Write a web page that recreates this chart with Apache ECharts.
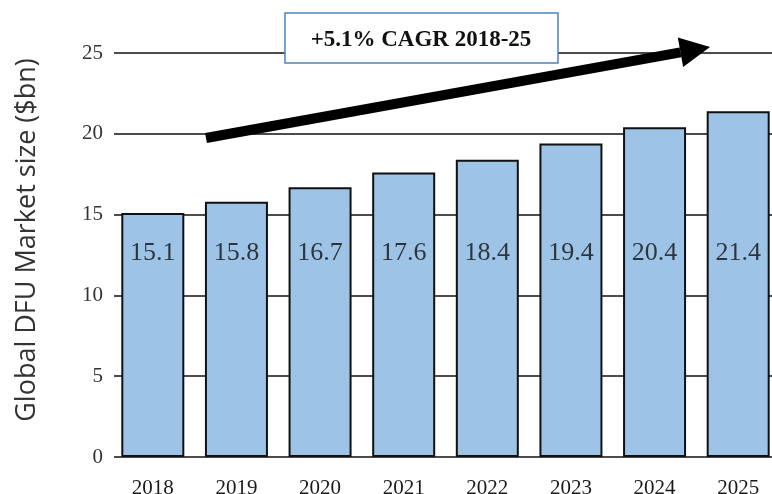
<!DOCTYPE html>
<html>
<head>
<meta charset="utf-8">
<script src="https://cdn.jsdelivr.net/npm/echarts@6/dist/echarts.min.js"></script>
<style>html,body{margin:0;padding:0;background:#fff}#c{width:772px;height:494px}</style>
</head>
<body>
<div id="c"></div>
<script>
const years = ['2018','2019','2020','2021','2022','2023','2024','2025'];
const marketSize = [15.1, 15.8, 16.7, 17.6, 18.4, 19.4, 20.4, 21.4];
const yTicks = [0, 5, 10, 15, 20, 25];
const yAxisTitle = 'Global DFU Market size ($bn)';
const cagrText = '+5.1% CAGR 2018-25';
const labelLevel = 12.6;

const serif = 'Liberation Serif';
const chart = echarts.init(document.getElementById('c'));

// arrow geometry
const tip = [710, 47], start = [206, 138];
const dx = tip[0]-start[0], dy = tip[1]-start[1], L = Math.hypot(dx, dy);
const ux = dx/L, uy = dy/L, nx = -uy, ny = ux;
const headLen = 30, headHalf = 15;
const base = [tip[0]-headLen*ux, tip[1]-headLen*uy];

chart.setOption({
  animation: false,
  grid: [
    {left: 114, right: 0, top: 53, bottom: 37, outerBoundsMode: 'none', containLabel: false},
    {left: 111, width: 669, top: 53, bottom: 37, outerBoundsMode: 'none', containLabel: false}
  ],
  xAxis: [
    {gridIndex: 0, type: 'category', data: years, show: false},
    {gridIndex: 1, type: 'category', data: years,
     axisLine: {show: false}, axisTick: {show: false},
     axisLabel: {fontFamily: serif, fontSize: 21, color: '#1a1a1a', margin: 21}}
  ],
  yAxis: [
    {gridIndex: 0, type: 'value', min: yTicks[0], max: yTicks[yTicks.length-1], interval: 5,
     axisLine: {show: false}, axisTick: {show: false},
     axisLabel: {fontFamily: serif, fontSize: 21, color: '#333', margin: 11},
     splitLine: {lineStyle: {color: '#111', width: 1.6}}},
    {gridIndex: 1, type: 'value', min: 0, max: 25, show: false}
  ],
  series: [
    {type: 'bar', xAxisIndex: 1, yAxisIndex: 1, data: marketSize, barWidth: 63,
     itemStyle: {color: '#9DC3E6', borderColor: '#111', borderWidth: 2}},
    {type: 'scatter', xAxisIndex: 1, yAxisIndex: 1, symbolSize: 0, z: 5,
     data: marketSize.map(() => labelLevel),
     label: {show: true, position: 'inside',
       formatter: p => marketSize[p.dataIndex].toFixed(1),
       fontFamily: serif, fontSize: 26, color: '#111'}}
  ],
  graphic: [
    {type: 'text', x: 27, y: 240, rotation: Math.PI/2, z: 10,
     style: {text: yAxisTitle, fontFamily: 'Open Sans', fontSize: 27, fill: '#333',
       textAlign: 'center', textVerticalAlign: 'middle'}},
    {type: 'rect', shape: {x: 285, y: 13, width: 273, height: 50}, z: 10,
     style: {fill: '#fff', stroke: '#4F81BD', lineWidth: 1.5}},
    {type: 'text', x: 421, y: 40, z: 11,
     style: {text: cagrText, fontFamily: serif, fontWeight: 'bold', fontSize: 23,
       fill: '#111', textAlign: 'center', textVerticalAlign: 'middle'}},
    {type: 'line', z: 10, shape: {x1: start[0], y1: start[1], x2: base[0], y2: base[1]},
     style: {stroke: '#000', lineWidth: 10, lineCap: 'butt'}},
    {type: 'polygon', z: 10,
     shape: {points: [tip, [base[0]+headHalf*nx, base[1]+headHalf*ny], [base[0]-headHalf*nx, base[1]-headHalf*ny]]},
     style: {fill: '#000'}}
  ]
});
</script>
</body>
</html>
